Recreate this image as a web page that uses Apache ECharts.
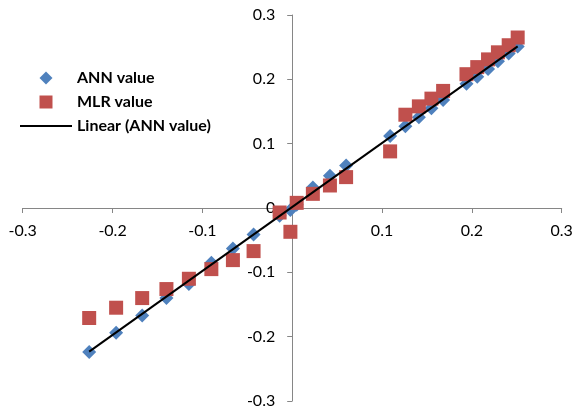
<!DOCTYPE html>
<html>
<head>
<meta charset="utf-8">
<script src="https://cdn.jsdelivr.net/npm/echarts@6/dist/echarts.min.js"></script>
<style>
  html, body { margin: 0; padding: 0; background: #fff; }
  #chart { width: 572px; height: 412px; }
</style>
</head>
<body>
<div id="chart"></div>
<script>
// observed (x) values, shared by both series
var xVals = [-0.226, -0.196, -0.167, -0.140, -0.115, -0.090, -0.066, -0.043, -0.014, -0.002, 0.005,
  0.023, 0.042, 0.060, 0.109, 0.126, 0.141, 0.155, 0.168, 0.194, 0.206, 0.218, 0.229, 0.241, 0.251];
// predicted values
var annVals = [-0.224, -0.194, -0.167, -0.140, -0.118, -0.085, -0.063, -0.041, -0.012, -0.003, 0.005,
  0.032, 0.050, 0.066, 0.112, 0.127, 0.141, 0.155, 0.168, 0.193, 0.204, 0.216, 0.228, 0.240, 0.251];
var mlrVals = [-0.171, -0.155, -0.140, -0.126, -0.110, -0.095, -0.081, -0.067, -0.007, -0.037, 0.008,
  0.022, 0.035, 0.048, 0.088, 0.145, 0.158, 0.170, 0.182, 0.208, 0.219, 0.231, 0.242, 0.253, 0.265];
var axisTicks = [-0.3, -0.2, -0.1, 0, 0.1, 0.2, 0.3];

function pairs(xs, ys) {
  return xs.map(function (x, i) { return [x, ys[i]]; });
}

// least squares line for the ANN series (Excel "Linear" trendline)
function trend(xs, ys) {
  var n = xs.length, sx = 0, sy = 0, sxx = 0, sxy = 0;
  for (var i = 0; i < n; i++) {
    sx += xs[i]; sy += ys[i]; sxx += xs[i] * xs[i]; sxy += xs[i] * ys[i];
  }
  var b = (n * sxy - sx * sy) / (n * sxx - sx * sx);
  var a = (sy - b * sx) / n;
  var x0 = Math.min.apply(null, xs), x1 = Math.max.apply(null, xs);
  return [[x0, a + b * x0], [x1, a + b * x1]];
}

var font = "Lato, 'Open Sans', sans-serif";
var axisColor = "#868686";
var W = 572, H = 412;
var gridBox = { left: 22.7, right: 10.3, top: 15, bottom: 11 };

function fmt(v) {
  var s = (+v).toFixed(1);
  return s === "0.0" || s === "-0.0" ? "0" : s;
}

var myChart = echarts.init(document.getElementById("chart"));
var option = {
  animation: false,
  textStyle: { fontFamily: font },
  grid: {
    left: gridBox.left,
    right: gridBox.right,
    top: gridBox.top,
    bottom: gridBox.bottom,
    outerBoundsMode: "none",
  },
  legend: {
    orient: "vertical",
    left: 20,
    top: 70,
    padding: 0,
    itemWidth: 52,
    itemHeight: 13,
    itemGap: 8,
    symbolKeepAspect: true,
    textStyle: { fontFamily: font, fontSize: 16, fontWeight: "bold", color: "#000" },
    data: [
      { name: "ANN value", icon: "path://M6,0L12,6L6,12L0,6Z" },
      { name: "MLR value", icon: "path://M0,0L12,0L12,12L0,12Z" },
      { name: "Linear (ANN value)", icon: "path://M0,0L52,0L52,2L0,2Z" },
    ],
  },
  xAxis: {
    type: "value",
    min: axisTicks[0],
    max: axisTicks[axisTicks.length - 1],
    interval: 0.1,
    // axis sits at y = 0 (middle of the grid)
    offset: -(H - gridBox.top - gridBox.bottom) / 2,
    axisLine: { onZero: false, lineStyle: { color: axisColor, width: 1 } },
    axisTick: { length: 5, lineStyle: { color: axisColor } },
    splitLine: { show: false },
    axisLabel: { color: "#000", fontSize: 16, margin: 15, formatter: fmt },
  },
  yAxis: {
    type: "value",
    min: axisTicks[0],
    max: axisTicks[axisTicks.length - 1],
    interval: 0.1,
    // axis sits at x = 0 (middle of the grid)
    offset: -(W - gridBox.left - gridBox.right) / 2,
    axisLine: { onZero: false, lineStyle: { color: axisColor, width: 1 } },
    axisTick: { length: 5, lineStyle: { color: axisColor } },
    splitLine: { show: false },
    axisLabel: { color: "#000", fontSize: 16, margin: 17, formatter: fmt },
  },
  series: [
    {
      name: "ANN value",
      type: "scatter",
      symbol: "diamond",
      symbolSize: 14,
      itemStyle: { color: "#4F81BD", opacity: 1 },
      data: pairs(xVals, annVals),
    },
    {
      name: "MLR value",
      type: "scatter",
      symbol: "rect",
      symbolSize: 14,
      itemStyle: { color: "#C0504D", opacity: 1 },
      data: pairs(xVals, mlrVals),
    },
    {
      name: "Linear (ANN value)",
      type: "line",
      symbol: "none",
      lineStyle: { color: "#000", width: 2 },
      itemStyle: { color: "#000" },
      data: trend(xVals, annVals),
    },
  ],
};
myChart.setOption(option);
</script>
</body>
</html>
